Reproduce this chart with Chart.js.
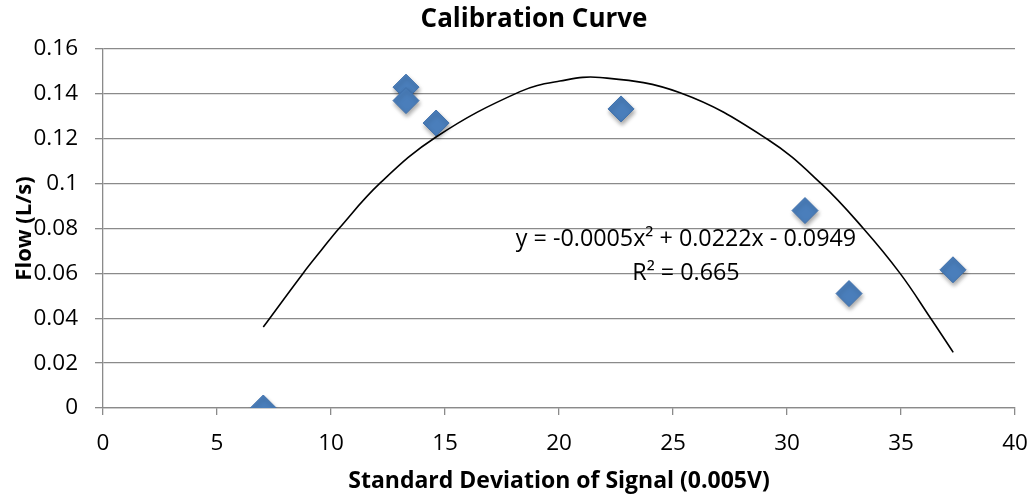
<!DOCTYPE html>
<html>
<head>
<meta charset="utf-8">
<script src="https://cdn.jsdelivr.net/npm/chart.js@4.4.1/dist/chart.umd.min.js"></script>
<style>
  html, body { margin: 0; padding: 0; background: #fff; }
  #wrap { width: 1036px; height: 497px; position: relative; }
</style>
</head>
<body>
<div id="wrap"><canvas id="calib"></canvas></div>
<script>
// measured points
const signalSD = [7.03, 13.29, 13.29, 14.61, 22.72, 30.79, 32.72, 37.28];
const flowLps = [0, 0.143, 0.137, 0.127, 0.1333, 0.088, 0.051, 0.0616];

// trendline
const curveX = [7.03, 8.78, 9.59, 10.35, 12.15, 14.64, 18.29, 20.04, 21.8, 25.31, 29.11, 31.5, 33.35, 34.96, 36.3, 37.29];
const curveY = [0.0361, 0.0601, 0.0705, 0.080, 0.1002, 0.121, 0.141, 0.1457, 0.1473, 0.1405, 0.120, 0.100, 0.080, 0.060, 0.040, 0.0248];

const xTickLabels = ['0', '5', '10', '15', '20', '25', '30', '35', '40'];
const yTickLabels = ['0', '0.02', '0.04', '0.06', '0.08', '0.1', '0.12', '0.14', '0.16'];

const trendText = ['y = -0.0005x\u00B2 + 0.0222x - 0.0949', 'R\u00B2 = 0.665'];

const FONT = "'Open Sans', 'Liberation Sans', sans-serif";
const GRID = '#8a8a8a';

const pointShadow = {
    id: 'pointShadow',
    beforeDatasetDraw(chart, args) {
        if (args.index !== 1) return;
        const ctx = chart.ctx;
        ctx.save();
        ctx.shadowColor = 'rgba(0,0,0,0.35)';
        ctx.shadowBlur = 4;
        ctx.shadowOffsetX = 1;
        ctx.shadowOffsetY = 3;
    },
    afterDatasetDraw(chart, args) {
        if (args.index !== 1) return;
        chart.ctx.restore();
    }
};

// chart title + trendline label
const textLayer = {
    id: 'textLayer',
    afterDraw(chart) {
        const ctx = chart.ctx;
        const xs = chart.scales.x, ys = chart.scales.y;
        ctx.save();
        ctx.fillStyle = '#000';
        ctx.textAlign = 'center';
        ctx.textBaseline = 'middle';
        ctx.font = "bold 26px " + FONT;
        ctx.fillText('Calibration Curve', 534, 20);
        ctx.font = "23.3px " + FONT;
        const cx = xs.getPixelForValue(25.57);
        ctx.fillText(trendText[0], cx, ys.getPixelForValue(0.075));
        ctx.fillText(trendText[1], cx, ys.getPixelForValue(0.060));
        ctx.restore();
    }
};

const ctx = document.getElementById('calib').getContext('2d');
new Chart(ctx, {
    type: 'scatter',
    data: {
        datasets: [
            {
                label: 'Poly. fit',
                data: curveX.map((x, i) => ({ x: x, y: curveY[i] })),
                showLine: true,
                borderColor: '#000',
                borderWidth: 1.6,
                pointRadius: 0,
                tension: 0.4
            },
            {
                label: 'Flow',
                data: signalSD.map((x, i) => ({ x: x, y: flowLps[i] })),
                pointStyle: 'rectRot',
                pointRadius: 13,
                backgroundColor: '#4a7ebb',
                borderColor: '#3f70ab',
                borderWidth: 1
            }
        ]
    },
    options: {
        responsive: true,
        maintainAspectRatio: false,
        animation: false,
        layout: { padding: { top: 49, right: 21, left: 0, bottom: 0 } },
        plugins: {
            legend: { display: false },
            tooltip: { enabled: false }
        },
        scales: {
            x: {
                min: 0, max: 40,
                afterFit: s => { s.height = 89; s.paddingLeft = 0; s.paddingRight = 0; },
                afterBuildTicks: s => { s.ticks = xTickLabels.map(t => ({ value: +t })); },
                ticks: {
                    callback: (v, i) => xTickLabels[i],
                    color: '#000', padding: 15, maxRotation: 0,
                    font: { family: FONT, size: 22.5 }
                },
                grid: { drawOnChartArea: false, color: GRID, tickLength: 7, lineWidth: 1.3 },
                border: { color: GRID, width: 1.3 },
                title: {
                    display: true, text: 'Standard Deviation of Signal (0.005V)',
                    color: '#000', padding: { top: 0, bottom: 2 },
                    font: { family: FONT, size: 23, weight: 'bold' }
                }
            },
            y: {
                min: 0, max: 0.16,
                afterFit: s => { s.width = 103; },
                afterBuildTicks: s => { s.ticks = yTickLabels.map(t => ({ value: +t })); },
                ticks: {
                    callback: (v, i) => yTickLabels[i],
                    color: '#000', padding: 17,
                    font: { family: FONT, size: 22.5 }
                },
                grid: { color: GRID, tickLength: 8, lineWidth: 1.3 },
                border: { color: GRID, width: 1.3 },
                title: {
                    display: true, text: 'Flow (L/s)',
                    color: '#000', padding: { top: 12, bottom: 0 },
                    font: { family: FONT, size: 22, weight: 'bold' }
                }
            }
        }
    },
    plugins: [pointShadow, textLayer]
});
</script>
</body>
</html>
